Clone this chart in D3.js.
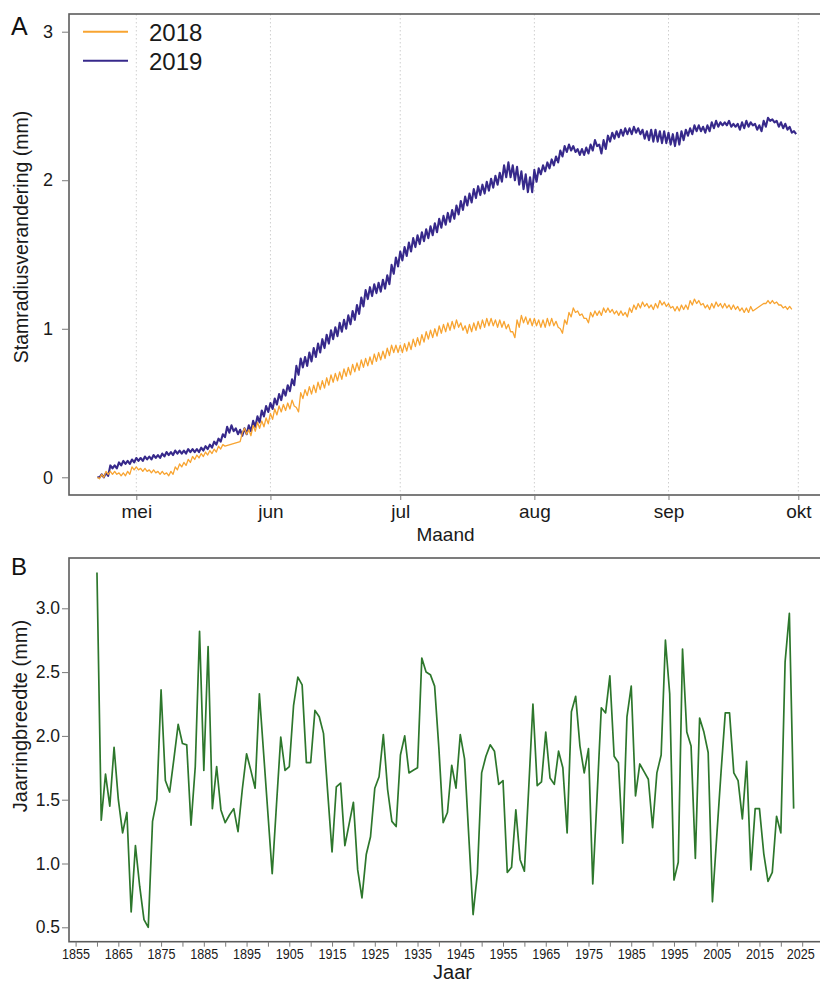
<!DOCTYPE html>
<html>
<head>
<meta charset="utf-8">
<script src="https://cdn.jsdelivr.net/npm/d3@7"></script>
<style>
  body { margin: 0; background: #fff; }
  svg { font-family: "Liberation Sans", Arial, sans-serif; }
</style>
</head>
<body>
<svg id="chart" width="820" height="982"></svg>
<script>
// data
// panel A: stem radius change (mm), two samples per day starting 22 april
const months = ["mei", "jun", "jul", "aug", "sep", "okt"];
const monthIndex = [4, 5, 6, 7, 8, 9];
const yTicksA = [0, 1, 2, 3];

const r2018 = [
  0.00,-0.01, 0.02,0.00, 0.04,0.02, 0.04,0.02, 0.04,0.02, 0.03,0.01, 0.03,0.01, 0.04,0.02, 0.07,0.05, 0.07,0.05,
  0.06,0.04, 0.06,0.04, 0.05,0.03, 0.05,0.03, 0.04,0.02, 0.04,0.02, 0.03,0.01, 0.04,0.02, 0.07,0.05, 0.09,0.07,
  0.10,0.08, 0.12,0.10, 0.14,0.12, 0.15,0.13, 0.16,0.14, 0.17,0.15, 0.18,0.16, 0.19,0.17, 0.21,0.19, 0.22,0.21,
  null,null, null,null, null,null, 0.24,0.30, 0.33,0.29, 0.32,0.28, 0.35,0.31, 0.37,0.33, 0.38,0.34, 0.40,0.36,
  0.43,0.39, 0.46,0.42, 0.48,0.44, 0.49,0.45, 0.50,0.46, 0.52,0.48, 0.47,0.44, 0.57,0.53, 0.59,0.55, 0.61,0.56,
  0.62,0.57, 0.64,0.59, 0.65,0.60, 0.67,0.62, 0.69,0.64, 0.70,0.65, 0.71,0.66, 0.73,0.68, 0.74,0.69, 0.76,0.71,
  0.77,0.72, 0.79,0.74, 0.80,0.75, 0.81,0.76, 0.83,0.78, 0.84,0.79, 0.85,0.80, 0.87,0.82, 0.89,0.84, 0.89,0.84,
  0.89,0.84, 0.90,0.85, 0.91,0.86, 0.93,0.88, 0.94,0.89, 0.96,0.91, 0.98,0.93, 0.99,0.94, 1.00,0.95, 1.02,0.97,
  1.03,0.98, 1.04,0.99, 1.05,1.00, 1.06,1.01, 1.04,0.99, 1.02,0.97, 1.03,0.98, 1.04,0.99, 1.05,1.00, 1.06,1.01,
  1.07,1.02, 1.07,1.02, 1.06,1.01, 1.06,1.01, 1.05,1.00, 1.03,0.98, 0.98,0.94, 1.06,1.01, 1.09,1.04, 1.08,1.03,
  1.07,1.02, 1.07,1.02, 1.06,1.01, 1.06,1.01, 1.07,1.02, 1.07,1.02, 1.05,1.01, 1.00,0.97, 1.06,1.03, 1.11,1.08,
  1.14,1.11, 1.12,1.09, 1.10,1.07, 1.07,1.04, 1.11,1.08, 1.12,1.09, 1.12,1.09, 1.14,1.11, 1.14,1.11, 1.13,1.10,
  1.12,1.09, 1.12,1.09, 1.11,1.08, 1.14,1.11, 1.16,1.13, 1.17,1.14, 1.18,1.15, 1.17,1.14, 1.16,1.13, 1.17,1.14,
  1.19,1.16, 1.18,1.15, 1.17,1.14, 1.15,1.12, 1.15,1.12, 1.16,1.13, 1.16,1.13, 1.19,1.16, 1.20,1.17, 1.19,1.16,
  1.17,1.14, 1.16,1.13, 1.17,1.14, 1.18,1.15, 1.17,1.14, 1.17,1.14, 1.16,1.13, 1.16,1.13, 1.15,1.12, 1.14,1.11,
  1.14,1.11, 1.15,1.12, null,null, null,null, 1.17,1.17, 1.19,1.17, 1.19,1.17, 1.18,1.16, 1.16,1.14, 1.15,1.13,
  1.15,1.13
];

const r2019 = [
  0.00,0.00, 0.02,0.00, 0.03,0.01, 0.08,0.06, 0.08,0.06, 0.10,0.08, 0.11,0.09, 0.11,0.09, 0.12,0.10, 0.13,0.11,
  0.13,0.11, 0.14,0.12, 0.14,0.12, 0.15,0.13, 0.15,0.13, 0.16,0.14, 0.17,0.15, 0.17,0.15, 0.18,0.16, 0.18,0.16,
  0.18,0.16, 0.19,0.17, 0.19,0.17, 0.19,0.17, 0.20,0.18, 0.21,0.19, 0.22,0.20, 0.24,0.22, 0.26,0.24, 0.29,0.27,
  0.34,0.30, 0.35,0.31, 0.33,0.29, 0.32,0.28, 0.33,0.29, 0.35,0.31, 0.38,0.34, 0.41,0.37, 0.45,0.41, 0.48,0.44,
  0.50,0.46, 0.53,0.49, 0.56,0.52, 0.59,0.55, 0.62,0.58, 0.66,0.62, 0.75,0.69, 0.80,0.74, 0.81,0.75, 0.84,0.78,
  0.87,0.81, 0.90,0.84, 0.93,0.87, 0.96,0.90, 0.99,0.93, 1.01,0.95, 1.04,0.98, 1.06,1.00, 1.09,1.03, 1.12,1.06,
  1.16,1.10, 1.21,1.15, 1.26,1.20, 1.28,1.22, 1.30,1.24, 1.31,1.25, 1.33,1.27, 1.36,1.30, 1.43,1.37, 1.48,1.42,
  1.52,1.46, 1.55,1.49, 1.58,1.52, 1.61,1.55, 1.63,1.57, 1.65,1.59, 1.67,1.61, 1.69,1.63, 1.71,1.65, 1.74,1.68,
  1.76,1.70, 1.78,1.72, 1.80,1.74, 1.83,1.77, 1.86,1.80, 1.89,1.83, 1.91,1.85, 1.94,1.88, 1.96,1.90, 1.97,1.91,
  1.99,1.93, 2.01,1.95, 2.03,1.97, 2.05,1.99, 2.10,2.02, 2.12,2.02, 2.10,2.00, 2.09,1.97, 2.06,1.94, 2.04,1.92,
  2.02,1.92, 2.07,1.99, 2.08,2.04, 2.10,2.06, 2.12,2.08, 2.14,2.10, 2.16,2.12, 2.20,2.16, 2.23,2.19, 2.24,2.20,
  2.23,2.19, 2.21,2.17, 2.21,2.17, 2.22,2.18, 2.24,2.20, 2.27,2.23, 2.24,2.18, 2.27,2.21, 2.30,2.26, 2.32,2.28,
  2.33,2.29, 2.34,2.30, 2.35,2.31, 2.35,2.31, 2.36,2.32, 2.35,2.31, 2.34,2.28, 2.33,2.27, 2.34,2.26, 2.34,2.26,
  2.33,2.25, 2.33,2.25, 2.32,2.24, 2.31,2.23, 2.32,2.24, 2.33,2.27, 2.34,2.30, 2.35,2.31, 2.37,2.33, 2.37,2.33,
  2.36,2.32, 2.37,2.33, 2.39,2.35, 2.40,2.36, 2.39,2.37, 2.39,2.37, 2.40,2.36, 2.38,2.36, 2.38,2.34, 2.39,2.35,
  2.40,2.36, 2.39,2.37, 2.38,2.34, 2.37,2.33, 2.40,2.36, 2.42,2.40, 2.41,2.39, 2.40,2.36, 2.39,2.35, 2.38,2.34,
  2.36,2.32, 2.33,2.31
];

// panel B: ring width (mm) per year from 1860
const firstYear = 1860;
const ringWidth = [
  3.28, 1.34, 1.70, 1.45, 1.91, 1.50, 1.24, 1.40, 0.62, 1.14,
  0.82, 0.56, 0.50, 1.33, 1.50, 2.36, 1.65, 1.56, 1.82, 2.09,
  1.94, 1.93, 1.30, 1.76, 2.82, 1.73, 2.70, 1.43, 1.76, 1.42,
  1.32, 1.38, 1.43, 1.25, 1.58, 1.86, 1.73, 1.59, 2.33, 1.86,
  1.39, 0.92, 1.46, 1.99, 1.73, 1.76, 2.24, 2.46, 2.40, 1.79,
  1.79, 2.20, 2.15, 2.02, 1.55, 1.09, 1.60, 1.63, 1.14, 1.31,
  1.48, 0.95, 0.73, 1.07, 1.21, 1.59, 1.68, 2.01, 1.58, 1.33,
  1.29, 1.85, 2.00, 1.71, 1.73, 1.75, 2.61, 2.50, 2.48, 2.39,
  1.90, 1.32, 1.40, 1.77, 1.59, 2.01, 1.82, 1.21, 0.60, 0.92,
  1.71, 1.84, 1.93, 1.88, 1.62, 1.65, 0.93, 0.97, 1.42, 1.03,
  0.94, 1.58, 2.25, 1.61, 1.64, 2.03, 1.67, 1.62, 1.88, 1.75,
  1.24, 2.19, 2.31, 1.92, 1.71, 1.90, 0.84, 1.52, 2.22, 2.18,
  2.47, 1.84, 1.79, 1.16, 2.15, 2.39, 1.53, 1.78, 1.72, 1.66,
  1.28, 1.71, 1.85, 2.75, 2.33, 0.87, 1.01, 2.68, 2.03, 1.92,
  1.04, 2.14, 2.03, 1.87, 0.70, 1.21, 1.71, 2.18, 2.18, 1.71,
  1.65, 1.35, 1.80, 0.95, 1.43, 1.43, 1.08, 0.86, 0.93, 1.37,
  1.24, 2.58, 2.96, 1.43
];
const yTicksB = [0.5, 1.0, 1.5, 2.0, 2.5, 3.0];
const yearTicks = d3.range(1855, 2026, 5);

const svg = d3.select("#chart");
const boxColor = "#5c5c5c";
const tickColor = "#7a7a7a";

// ---------- panel A ----------
const A = { left: 69, top: 14, bottom: 495, right: 834 };
const start = Date.UTC(2019, 3, 22);
const halfDay = 12 * 3600 * 1000;
const monthDates = monthIndex.map((m) => new Date(Date.UTC(2019, m, 1)));

const xA = d3
  .scaleUtc()
  .domain([monthDates[0], monthDates[5]])
  .range([136.3, 798.3]);
const yA = d3.scaleLinear().domain([0, 3]).range([477.3, 31.7]);

const seriesA = [
  { label: "2019", color: "#37298b", width: 2.1, values: r2019 },
  { label: "2018", color: "#f8a431", width: 1.3, values: r2018 },
];

// dotted month grid
svg
  .append("g")
  .selectAll("line")
  .data(monthDates)
  .join("line")
  .attr("x1", (d) => xA(d))
  .attr("x2", (d) => xA(d))
  .attr("y1", A.top)
  .attr("y2", A.bottom)
  .attr("stroke", "#cfcfcf")
  .attr("stroke-width", 1)
  .attr("stroke-dasharray", "1.5,2.5");

const lineA = d3
  .line()
  .x((d) => xA(d.date))
  .y((d) => yA(d.value));

seriesA.forEach((s) => {
  const pts = s.values
    .map((v, i) => ({ date: new Date(start + i * halfDay), value: v }))
    .filter((d) => d.value != null);
  svg
    .append("path")
    .datum(pts)
    .attr("fill", "none")
    .attr("stroke", s.color)
    .attr("stroke-width", s.width)
    .attr("stroke-linejoin", "round")
    .attr("d", lineA);
});

svg
  .append("rect")
  .attr("x", A.left)
  .attr("y", A.top)
  .attr("width", A.right - A.left)
  .attr("height", A.bottom - A.top)
  .attr("fill", "none")
  .attr("stroke", boxColor)
  .attr("stroke-width", 1.6);

svg
  .append("g")
  .attr("transform", `translate(${A.left},0)`)
  .call(d3.axisLeft(yA).tickValues(yTicksA).tickSize(7).tickPadding(9).tickFormat(d3.format("d")))
  .call((g) => g.select(".domain").remove())
  .call((g) => g.selectAll(".tick line").attr("stroke", tickColor))
  .call((g) => g.selectAll(".tick text").attr("font-size", 18).attr("fill", "#1a1a1a"));

svg
  .append("g")
  .attr("transform", `translate(0,${A.bottom})`)
  .call(d3.axisBottom(xA).tickValues(monthDates).tickSize(5).tickPadding(4.5).tickFormat((d, i) => months[i]))
  .call((g) => g.select(".domain").remove())
  .call((g) => g.selectAll(".tick line").attr("stroke", tickColor))
  .call((g) => g.selectAll(".tick text").attr("font-size", 19).attr("fill", "#1a1a1a"));

svg
  .append("text")
  .attr("x", 445.5)
  .attr("y", 540.5)
  .attr("text-anchor", "middle")
  .attr("font-size", 19)
  .attr("fill", "#1a1a1a")
  .text("Maand");

svg
  .append("text")
  .attr("transform", "translate(28,237) rotate(-90)")
  .attr("text-anchor", "middle")
  .attr("font-size", 19.5)
  .attr("fill", "#1a1a1a")
  .text("Stamradiusverandering (mm)");

svg
  .append("text")
  .attr("x", 11)
  .attr("y", 35)
  .attr("font-size", 25)
  .attr("fill", "#111")
  .text("A");

// legend
const legend = svg.append("g");
[seriesA[1], seriesA[0]].forEach((s, i) => {
  const y = 31.7 + i * 29;
  legend
    .append("line")
    .attr("x1", 83)
    .attr("x2", 128)
    .attr("y1", y)
    .attr("y2", y)
    .attr("stroke", s.color)
    .attr("stroke-width", 2);
  legend
    .append("text")
    .attr("x", 149)
    .attr("y", y + 9.5)
    .attr("font-size", 24)
    .attr("fill", "#1a1a1a")
    .text(s.label);
});

// ---------- panel B ----------
const B = { left: 69, top: 558, bottom: 941.7, right: 834 };
const xB = d3.scaleLinear().domain([1855, 2025]).range([75.6, 802.2]);
const yB = d3.scaleLinear().domain([0.5, 3.0]).range([927.3, 608.3]);

const ringData = ringWidth.map((v, i) => ({ year: firstYear + i, value: v }));

svg
  .append("path")
  .datum(ringData)
  .attr("fill", "none")
  .attr("stroke", "#2d772c")
  .attr("stroke-width", 1.7)
  .attr("stroke-linejoin", "round")
  .attr(
    "d",
    d3
      .line()
      .x((d) => xB(d.year))
      .y((d) => yB(d.value))
  );

svg
  .append("rect")
  .attr("x", B.left)
  .attr("y", B.top)
  .attr("width", B.right - B.left)
  .attr("height", B.bottom - B.top)
  .attr("fill", "none")
  .attr("stroke", boxColor)
  .attr("stroke-width", 1.6);

svg
  .append("g")
  .attr("transform", `translate(${B.left},0)`)
  .call(d3.axisLeft(yB).tickValues(yTicksB).tickSize(7).tickPadding(2).tickFormat(d3.format(".1f")))
  .call((g) => g.select(".domain").remove())
  .call((g) => g.selectAll(".tick line").attr("stroke", tickColor))
  .call((g) => g.selectAll(".tick text").attr("font-size", 17.5).attr("fill", "#1a1a1a"));

svg
  .append("g")
  .attr("transform", `translate(0,${B.bottom})`)
  .call(
    d3
      .axisBottom(xB)
      .tickValues(yearTicks)
      .tickSize(5)
      .tickPadding(1.5)
      .tickFormat((d) => ((d - 1855) % 10 === 0 ? String(d) : ""))
  )
  .call((g) => g.select(".domain").remove())
  .call((g) => g.selectAll(".tick line").attr("stroke", tickColor))
  .call((g) =>
    g
      .selectAll(".tick text")
      .attr("font-size", 15.5)
      .attr("fill", "#1a1a1a")
      .filter(function () { return this.textContent !== ""; })
      .attr("textLength", 28)
      .attr("lengthAdjust", "spacingAndGlyphs")
  )
  .call((g) =>
    g
      .selectAll(".tick text")
      .filter((d) => d === 2025)
      .attr("x", -2)
  );

svg
  .append("text")
  .attr("x", 452.5)
  .attr("y", 979)
  .attr("text-anchor", "middle")
  .attr("font-size", 20)
  .attr("fill", "#1a1a1a")
  .text("Jaar");

svg
  .append("text")
  .attr("transform", "translate(27,716) rotate(-90)")
  .attr("text-anchor", "middle")
  .attr("font-size", 20)
  .attr("fill", "#1a1a1a")
  .text("Jaarringbreedte (mm)");

svg
  .append("text")
  .attr("x", 11)
  .attr("y", 575)
  .attr("font-size", 24)
  .attr("fill", "#111")
  .text("B");
</script>
</body>
</html>
